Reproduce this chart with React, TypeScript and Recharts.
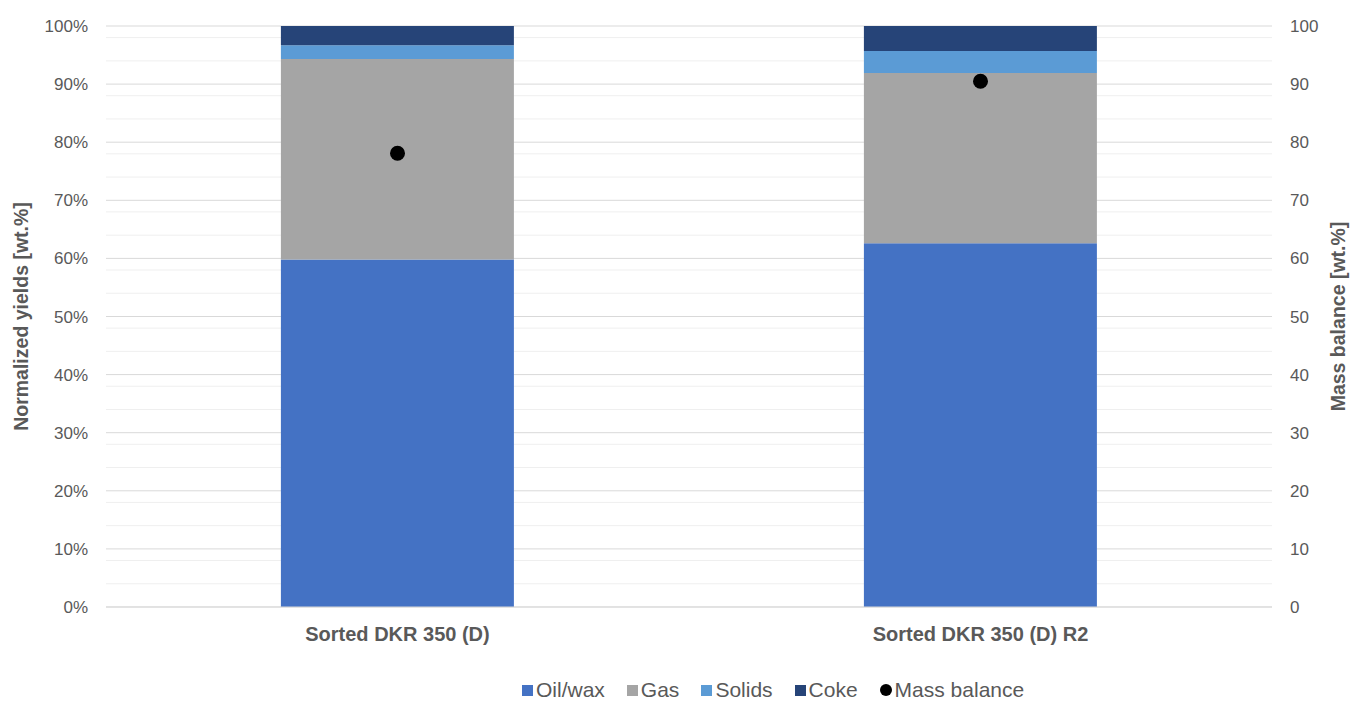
import {
  ComposedChart,
  Bar,
  Scatter,
  XAxis,
  YAxis,
  CartesianGrid,
  Legend,
} from 'recharts';

const categories = ['Sorted DKR 350 (D)', 'Sorted DKR 350 (D) R2'];
const oilWax = [59.8, 62.6];
const gas = [34.5, 29.3];
const solids = [2.4, 3.8];
const coke = [3.3, 4.3];
const massBalance = [78.1, 90.5];

const majorTicks = [0, 10, 20, 30, 40, 50, 60, 70, 80, 90, 100];
const minorTicks = [
  2, 4, 6, 8, 12, 14, 16, 18, 22, 24, 26, 28, 32, 34, 36, 38, 42, 44, 46, 48,
  52, 54, 56, 58, 62, 64, 66, 68, 72, 74, 76, 78, 82, 84, 86, 88, 92, 94, 96, 98,
];

const legendItems = [
  { name: 'Oil/wax', color: '#4472C4', shape: 'square' },
  { name: 'Gas', color: '#A5A5A5', shape: 'square' },
  { name: 'Solids', color: '#5B9BD5', shape: 'square' },
  { name: 'Coke', color: '#264478', shape: 'square' },
  { name: 'Mass balance', color: '#000000', shape: 'circle' },
];

const FONT = '"Liberation Sans", Arial, sans-serif';
const TEXT = '#595959';

const data = categories.map((name, i) => ({
  name,
  oil: oilWax[i],
  gas: gas[i],
  solids: solids[i],
  coke: coke[i],
  mass: massBalance[i],
}));

function LegendContent() {
  return (
    <div
      style={{
        display: 'flex',
        justifyContent: 'flex-start',
        alignItems: 'center',
        gap: 22,
        paddingTop: 16,
        paddingLeft: 522,
        fontFamily: FONT,
        fontSize: 21,
        color: TEXT,
      }}
    >
      {legendItems.map((it) => (
        <div key={it.name} style={{ display: 'flex', alignItems: 'center' }}>
          <span
            style={{
              display: 'inline-block',
              width: it.shape === 'circle' ? 12 : 11,
              height: it.shape === 'circle' ? 12 : 11,
              borderRadius: it.shape === 'circle' ? '50%' : 0,
              background: it.color,
              marginRight: 3,
            }}
          />
          {it.name}
        </div>
      ))}
    </div>
  );
}

export default function App() {
  return (
    <div style={{ position: 'absolute', left: 0, top: 0, background: '#fff' }}>
      <ComposedChart
        width={1351}
        height={702}
        data={data}
        barCategoryGap="30%"
        margin={{ top: 26, right: 0, left: 0, bottom: 0 }}
      >
        <CartesianGrid
          yAxisId="left"
          vertical={false}
          horizontalValues={minorTicks}
          stroke="#EFEFEF"
        />
        <CartesianGrid
          yAxisId="left"
          vertical={false}
          horizontalValues={majorTicks}
          stroke="#D9D9D9"
        />
        <XAxis
          dataKey="name"
          height={55}
          axisLine={{ stroke: '#D9D9D9' }}
          tickLine={false}
          tick={{ fontSize: 20, fontWeight: 'bold', fill: TEXT, fontFamily: FONT }}
          dy={12}
        />
        <YAxis
          yAxisId="left"
          domain={[0, 100]}
          ticks={majorTicks}
          width={106}
          axisLine={false}
          tickLine={false}
          tickMargin={12}
          tickFormatter={(v) => v + '%'}
          tick={{ fontSize: 17, fill: TEXT, fontFamily: FONT }}
          label={{
            value: 'Normalized yields [wt.%]',
            angle: -90,
            position: 'insideLeft',
            offset: 21,
            style: { textAnchor: 'middle', fontSize: 19.5, fontWeight: 'bold', fill: TEXT, fontFamily: FONT },
          }}
        />
        <YAxis
          yAxisId="right"
          orientation="right"
          domain={[0, 100]}
          ticks={majorTicks}
          width={79}
          axisLine={false}
          tickLine={false}
          tickMargin={12}
          tick={{ fontSize: 17, fill: TEXT, fontFamily: FONT }}
          label={{
            value: 'Mass balance [wt.%]',
            angle: -90,
            position: 'insideRight',
            offset: 13,
            style: { textAnchor: 'middle', fontSize: 19.5, fontWeight: 'bold', fill: TEXT, fontFamily: FONT },
          }}
        />
        <Bar yAxisId="left" dataKey="oil" name="Oil/wax" stackId="a" fill="#4472C4" isAnimationActive={false} />
        <Bar yAxisId="left" dataKey="gas" name="Gas" stackId="a" fill="#A5A5A5" isAnimationActive={false} />
        <Bar yAxisId="left" dataKey="solids" name="Solids" stackId="a" fill="#5B9BD5" isAnimationActive={false} />
        <Bar yAxisId="left" dataKey="coke" name="Coke" stackId="a" fill="#264478" isAnimationActive={false} />
        <Scatter
          yAxisId="right"
          dataKey="mass"
          name="Mass balance"
          fill="#000000"
          isAnimationActive={false}
          shape={(p: any) => <circle cx={p.cx} cy={p.cy} r={7.5} fill="#000" />}
        />
        <Legend verticalAlign="bottom" height={40} content={<LegendContent />} />
      </ComposedChart>
    </div>
  );
}
